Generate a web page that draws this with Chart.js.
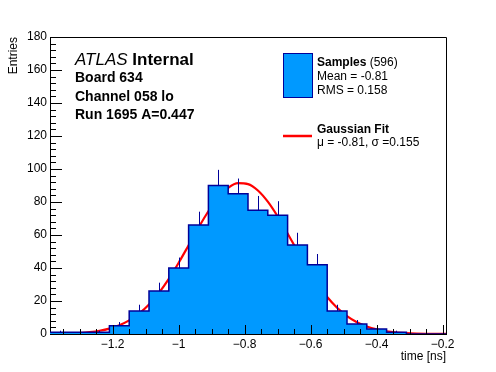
<!DOCTYPE html>
<html>
<head>
<meta charset="UTF-8">
<title>Board 634 timing</title>
<script src="https://cdn.jsdelivr.net/npm/chart.js"></script>
<style>
  html, body { margin: 0; padding: 0; background: #fff; }
  #wrap { width: 496px; height: 372px; }
</style>
</head>
<body>
<div id="wrap"><canvas id="chart" width="496" height="372"></canvas></div>
<script>
// histogram: 20 bins of 0.06 ns
const binEdges = [-1.39, -1.33, -1.27, -1.21, -1.15, -1.09, -1.03, -0.97, -0.91, -0.85, -0.79,
                  -0.73, -0.67, -0.61, -0.55, -0.49, -0.43, -0.37, -0.31, -0.25, -0.19];
const counts = [1, 1, 1, 5, 14, 26, 40, 66, 90, 85, 75, 72, 54, 42, 14, 6, 3, 1, 0, 0];

// fitted gaussian
const fitX = [-1.39, -1.36, -1.33, -1.30, -1.27, -1.24, -1.21, -1.18, -1.15, -1.12, -1.09,
              -1.06, -1.03, -1.00, -0.97, -0.94, -0.91, -0.88, -0.85, -0.82, -0.79, -0.76,
              -0.73, -0.70, -0.67, -0.64, -0.61, -0.58, -0.55, -0.52, -0.49, -0.46, -0.43,
              -0.40, -0.37, -0.34, -0.31, -0.28, -0.25, -0.22, -0.19];
const fitY = [0.08, 0.17, 0.33, 0.62, 1.12, 1.95, 3.28, 5.31, 8.26, 12.40, 17.92,
              24.94, 33.46, 43.22, 53.76, 64.44, 74.39, 82.72, 88.60, 91.41, 90.84, 86.96,
              80.18, 71.21, 60.92, 50.20, 39.85, 30.47, 22.43, 15.91, 10.87, 7.16, 4.54,
              2.77, 1.63, 0.92, 0.50, 0.26, 0.13, 0.07, 0.03];

const xTicks = [-1.2, -1.0, -0.8, -0.6, -0.4, -0.2];
const xTickLabels = ['\u22121.2', '\u22121', '\u22120.8', '\u22120.6', '\u22120.4', '\u22120.2'];
const yTicks = [0, 20, 40, 60, 80, 100, 120, 140, 160, 180];

const headerLines = ['Board 634', 'Channel 058 lo', 'Run 1695 A=0.447'];
const nSamples = 596, sampleMean = '-0.81', sampleRms = '0.158';
const fitText = 'μ = -0.81, σ =0.155';

const FONT = '"Liberation Sans", Arial, Helvetica, sans-serif';
const FILL = '#0099ff', NAVY = '#000099', RED = '#ff0000';

const histPts = binEdges.map((e, i) => ({ x: e, y: i < counts.length ? counts[i] : 0 }));
const fitPts = fitX.map((x, i) => ({ x, y: fitY[i] }));

const decor = {
  id: 'decor',
  afterDatasetDraw(chart, args) {
    if (args.index !== 0) return;
    const { ctx, scales: { x, y } } = chart;
    ctx.save();
    ctx.strokeStyle = NAVY;
    ctx.lineWidth = 1;
    counts.forEach((c, i) => {
      if (!c) return;
      const px = Math.round(x.getPixelForValue((binEdges[i] + binEdges[i + 1]) / 2)) + 0.5;
      ctx.beginPath();
      ctx.moveTo(px, y.getPixelForValue(c));
      ctx.lineTo(px, y.getPixelForValue(c + Math.sqrt(c)));
      ctx.stroke();
    });
    ctx.restore();
  },
  afterDraw(chart) {
    const { ctx, chartArea: a, scales: { x, y } } = chart;
    ctx.save();
    ctx.strokeStyle = '#000';
    ctx.lineWidth = 1;
    // frame
    ctx.beginPath();
    ctx.moveTo(a.left, a.top + 0.5); ctx.lineTo(a.right + 0.5, a.top + 0.5);
    ctx.lineTo(a.right + 0.5, a.bottom);
    ctx.stroke();
    // inward ticks
    ctx.beginPath();
    for (let v = -1.35; v <= -0.19; v += 0.05) {
      const px = Math.round(x.getPixelForValue(v)) + 0.5;
      const major = Math.abs(Math.round(v * 5) - v * 5) < 1e-6;
      ctx.moveTo(px, a.bottom); ctx.lineTo(px, a.bottom - (major ? 9 : 5));
    }
    for (let v = 0; v <= 180; v += 4) {
      const py = Math.round(y.getPixelForValue(v)) + 0.5;
      ctx.moveTo(a.left, py); ctx.lineTo(a.left + (v % 20 === 0 ? 12 : 6), py);
    }
    ctx.stroke();

    ctx.fillStyle = '#000';
    // axis titles
    ctx.font = '12px ' + FONT;
    ctx.textAlign = 'right'; ctx.textBaseline = 'alphabetic';
    ctx.fillText('time [ns]', a.right, 360);
    ctx.save();
    ctx.translate(17, a.top);
    ctx.rotate(-Math.PI / 2);
    ctx.fillText('Entries', 0, 0);
    ctx.restore();

    // ATLAS label
    ctx.textAlign = 'left';
    ctx.font = 'italic 17px ' + FONT;
    ctx.fillText('ATLAS', 75, 65);
    const w = ctx.measureText('ATLAS ').width;
    ctx.font = 'bold 17px ' + FONT;
    ctx.fillText('Internal', 75 + w, 65);
    ctx.font = 'bold 14px ' + FONT;
    headerLines.forEach((t, i) => ctx.fillText(t, 75, 82 + i * 18.5));

    // legend
    ctx.fillStyle = FILL;
    ctx.fillRect(283, 53, 29, 44);
    ctx.strokeStyle = NAVY;
    ctx.strokeRect(283.5, 53.5, 29, 44);
    ctx.fillStyle = '#000';
    ctx.font = 'bold 12px ' + FONT;
    ctx.fillText('Samples', 317, 66);
    const sw = ctx.measureText('Samples ').width;
    ctx.font = '12px ' + FONT;
    ctx.fillText('(' + nSamples + ')', 317 + sw, 66);
    ctx.fillText('Mean = ' + sampleMean, 317, 80);
    ctx.fillText('RMS = ' + sampleRms, 317, 94);
    ctx.font = 'bold 12px ' + FONT;
    ctx.fillText('Gaussian Fit', 317, 133);
    ctx.font = '12px ' + FONT;
    ctx.fillText(fitText, 317, 146);
    ctx.strokeStyle = RED;
    ctx.lineWidth = 2.5;
    ctx.beginPath(); ctx.moveTo(283, 136); ctx.lineTo(312, 136); ctx.stroke();
    ctx.restore();
  }
};

new Chart(document.getElementById('chart'), {
  type: 'line',
  data: {
    datasets: [
      {
        label: 'Samples',
        data: histPts,
        stepped: true,
        fill: 'origin',
        backgroundColor: FILL,
        borderColor: NAVY,
        borderWidth: 1.5,
        pointRadius: 0
      },
      {
        label: 'Gaussian Fit',
        data: fitPts,
        borderColor: RED,
        borderWidth: 2.2,
        cubicInterpolationMode: 'monotone',
        fill: false,
        pointRadius: 0
      }
    ]
  },
  options: {
    responsive: false,
    animation: false,
    events: [],
    layout: { padding: { top: 37, right: 50, left: 0, bottom: 0 } },
    plugins: { legend: { display: false }, tooltip: { enabled: false } },
    scales: {
      x: {
        type: 'linear',
        min: binEdges[0],
        max: binEdges[binEdges.length - 1],
        afterFit(s) { s.height = 38; },
        afterBuildTicks(s) { s.ticks = xTicks.map(v => ({ value: v })); },
        grid: { drawOnChartArea: false, drawTicks: false },
        border: { color: '#000', width: 1 },
        ticks: {
          callback: (v, i) => xTickLabels[i],
          padding: 3, color: '#000', maxRotation: 0, autoSkip: false,
          font: { family: FONT, size: 12 }
        }
      },
      y: {
        type: 'linear',
        min: 0,
        max: 180,
        afterFit(s) { s.width = 50; },
        afterBuildTicks(s) { s.ticks = yTicks.map(v => ({ value: v })); },
        grid: { drawOnChartArea: false, drawTicks: false },
        border: { color: '#000', width: 1 },
        ticks: {
          padding: 3, color: '#000', autoSkip: false,
          font: { family: FONT, size: 12 }
        }
      }
    }
  },
  plugins: [decor]
});
</script>
</body>
</html>
